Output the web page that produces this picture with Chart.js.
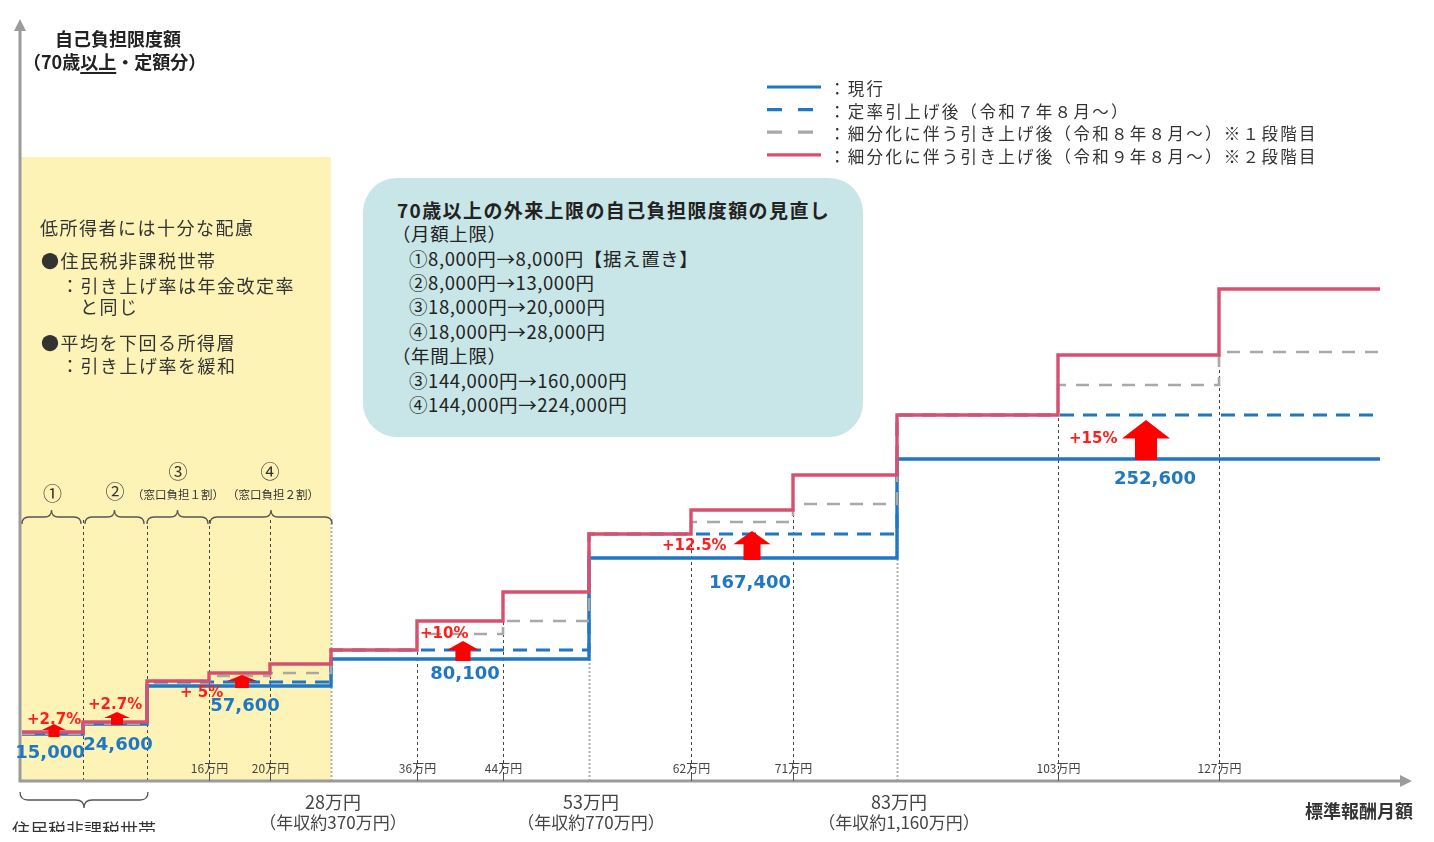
<!DOCTYPE html>
<html lang="ja">
<head>
<meta charset="utf-8">
<title>70歳以上の外来上限の自己負担限度額の見直し</title>
<script src="https://cdn.jsdelivr.net/npm/chart.js@4.4.1/dist/chart.umd.min.js"></script>
<style>
  html, body { margin: 0; padding: 0; background: #fff; }
  #wrap { position: relative; width: 1434px; height: 842px; overflow: hidden;
          font-family: "Noto Sans CJK JP", "Noto Sans", sans-serif; color: #333; }
  #chart { position: absolute; left: 0; top: 0; }
  #box { position: absolute; left: 363px; top: 178px; width: 500px; height: 259px;
         border-radius: 34px; background: #c8e6e7; }
  .t { position: absolute; white-space: nowrap; line-height: 24px; }
  .ttl { font-size: 18px; font-weight: 700; color: #222; }
  .ttl u { text-underline-offset: 3px; text-decoration-thickness: 1.5px; }
  .lg  { font-size: 16.5px; letter-spacing: 2.3px; color: #333; }
  .nt  { font-size: 18px; letter-spacing: 1.5px; color: #333; }
  .bx  { font-size: 18.5px; letter-spacing: 0.6px; color: #222; }
  .bxh { font-size: 19px; font-weight: 700; letter-spacing: 1.4px; color: #222; }
</style>
</head>
<body>
<div id="wrap">
  <canvas id="chart" width="1434" height="842"></canvas>
  <div id="box"></div>
</div>
<script>
'use strict';

// ---- data (diagram is not drawn to scale: units are diagram units) ----
// start of each income band on the horizontal axis
const segStart = [2, 63, 127, 189, 250, 311, 397, 483, 569, 671, 773, 877, 1038, 1199];
const segEnd   = 1360;

// limit level for each band
const current = [47, 57, 95, 95, 95, 122, 122, 122, 223, 223, 223, 322, 322, 322];
const rateUp  = [47, 57, 99, 99, 99, 131, 131, 131, 247, 247, 247, 366, 366, 366];
const stage1  = [47, 57, 100, 105, 108, 131, 147, 160, 247, 259, 277, 366, 396, 429];
const stage2  = [49, 59, 100, 108, 117, 131, 160, 189, 247, 271, 306, 366, 426, 492];

// axis labels
const minorTicks  = [189, 250, 397, 483, 671, 773, 1038, 1199];
const minorLabels = ['16万円', '20万円', '36万円', '44万円', '62万円', '71万円', '103万円', '127万円'];
const majorTicks  = [311, 569, 877];
const majorLabels = ['28万円', '53万円', '83万円'];
const majorSub    = ['（年収約370万円）', '（年収約770万円）', '（年収約1,160万円）'];

// current limits written on the chart
const valueText = ['15,000', '24,600', '57,600', '80,100', '167,400', '252,600'];
const valueX    = [30, 98, 225, 445, 730, 1135];
const valueY    = [28, 36, 75, 107, 198, 302];

// increase arrows and rates
const pctText  = ['+2.7%', '+2.7%', '+ 5%', '+10%', '+12.5%', '+15%'];
const pctX     = [7, 68, 160, 400, 642, 1049];
const pctY     = [61, 76, 88, 147, 235, 342];
const arrowX    = [34, 97, 222, 443, 732, 1126];
const arrowBase = [44, 56, 93, 120, 221, 321];
const arrowTip  = [57, 69, 106, 140, 250, 361];
const arrowW    = [24, 26, 30, 33, 37, 48];

const legendLabels = [
  '：現行',
  '：定率引上げ後（令和７年８月～）',
  '：細分化に伴う引き上げ後（令和８年８月～）※１段階目',
  '：細分化に伴う引き上げ後（令和９年８月～）※２段階目'
];

const BLUE = '#1f77c6', RED = '#d8506f', GREY = '#a8a8a8';
const lowBandTop = 624, braceLevel = 264;

function steps(vals) {
  const pts = segStart.map((x, i) => ({ x, y: vals[i] }));
  pts.push({ x: segEnd, y: vals[vals.length - 1] });
  return pts;
}

function brace(ctx, x1, x2, yy, dir, r) {
  const m = (x1 + x2) / 2;
  ctx.beginPath();
  ctx.moveTo(x1, yy + r * dir);
  ctx.quadraticCurveTo(x1, yy, x1 + r, yy);
  ctx.lineTo(m - r, yy);
  ctx.quadraticCurveTo(m, yy, m, yy - r * dir);
  ctx.quadraticCurveTo(m, yy, m + r, yy);
  ctx.lineTo(x2 - r, yy);
  ctx.quadraticCurveTo(x2, yy, x2, yy + r * dir);
  ctx.stroke();
}

function upArrow(ctx, cx, yb, yt, w) {
  const sw = w * 0.46, hh = (yb - yt) * 0.46;
  ctx.beginPath();
  ctx.moveTo(cx - sw / 2, yb);
  ctx.lineTo(cx - sw / 2, yt + hh);
  ctx.lineTo(cx - w / 2, yt + hh);
  ctx.lineTo(cx, yt);
  ctx.lineTo(cx + w / 2, yt + hh);
  ctx.lineTo(cx + sw / 2, yt + hh);
  ctx.lineTo(cx + sw / 2, yb);
  ctx.closePath();
  ctx.fill();
}

const diagram = {
  id: 'diagram',
  beforeDatasetsDraw(chart) {
    const { ctx, scales: { x, y } } = chart;
    const x0 = x.getPixelForValue(0), y0 = y.getPixelForValue(0);
    ctx.save();

    // low-income band
    ctx.fillStyle = '#fdf3b6';
    ctx.fillRect(x0, y.getPixelForValue(lowBandTop),
                 x.getPixelForValue(segStart[5]) - x0, y0 - y.getPixelForValue(lowBandTop));

    // vertical guides at band borders
    segStart.slice(1).forEach((v, k) => {
      const i = k + 1;
      const major = majorTicks.includes(v);
      const top = i <= 5 ? braceLevel : (major ? current[i] : stage2[i]);
      ctx.beginPath();
      if (major) { ctx.strokeStyle = '#b0b0b0'; ctx.lineWidth = 2; ctx.setLineDash([2, 2]); }
      else { ctx.strokeStyle = '#444'; ctx.lineWidth = 1; ctx.setLineDash([3, 3]); }
      const px = Math.round(x.getPixelForValue(v)) + 0.5;
      ctx.moveTo(px, y0);
      ctx.lineTo(px, y.getPixelForValue(top));
      ctx.stroke();
    });
    ctx.setLineDash([]);

    // axes with arrow heads
    ctx.strokeStyle = '#9b9b9b';
    ctx.fillStyle = '#9b9b9b';
    ctx.lineWidth = 3;
    const xr = x.getPixelForValue(x.max), yt = y.getPixelForValue(y.max);
    ctx.beginPath();
    ctx.moveTo(x0, y0); ctx.lineTo(x0, yt + 8);
    ctx.moveTo(x0 - 1.5, y0); ctx.lineTo(xr - 8, y0);
    ctx.stroke();
    ctx.beginPath();
    ctx.moveTo(x0, yt - 2); ctx.lineTo(x0 - 6, yt + 10); ctx.lineTo(x0 + 6, yt + 10); ctx.closePath();
    ctx.moveTo(xr + 2, y0); ctx.lineTo(xr - 10, y0 - 6); ctx.lineTo(xr - 10, y0 + 6); ctx.closePath();
    ctx.fill();

    // ticks and tick labels
    ctx.strokeStyle = '#555';
    ctx.lineWidth = 1;
    ctx.fillStyle = '#444';
    ctx.font = '12px "Noto Sans CJK JP"';
    ctx.textAlign = 'center';
    ctx.textBaseline = 'middle';
    minorTicks.forEach((v, i) => {
      const px = Math.round(x.getPixelForValue(v)) + 0.5;
      ctx.beginPath(); ctx.moveTo(px, y0 - 6); ctx.lineTo(px, y0); ctx.stroke();
      ctx.fillText(minorLabels[i], px, y.getPixelForValue(13));
    });
    majorTicks.forEach((v, i) => {
      const px = x.getPixelForValue(v) + 2;
      ctx.font = '18px "Noto Sans CJK JP"';
      ctx.fillText(majorLabels[i], px, y.getPixelForValue(-21));
      ctx.font = '17px "Noto Sans CJK JP"';
      ctx.fillText(majorSub[i], px, y.getPixelForValue(-42));
    });
    ctx.font = 'bold 18px "Noto Sans CJK JP"';
    ctx.fillStyle = '#333';
    ctx.textAlign = 'right';
    ctx.fillText('標準報酬月額', x.getPixelForValue(1393), y.getPixelForValue(-30));

    // braces over the low-income bands
    ctx.strokeStyle = '#555';
    ctx.lineWidth = 1.3;
    const by = y.getPixelForValue(braceLevel);
    const sx = segStart.map(v => x.getPixelForValue(v));
    brace(ctx, sx[0], sx[1] - 2, by, 1, 7);
    brace(ctx, sx[1] + 2, sx[2] - 3, by, 1, 7);
    brace(ctx, sx[2], sx[3] - 1, by, 1, 7);
    brace(ctx, sx[3] + 1, sx[5] + 1, by, 1, 7);
    brace(ctx, x0, sx[2] + 1, y.getPixelForValue(-19), -1, 8);

    ctx.fillStyle = '#333';
    ctx.textAlign = 'center';
    ctx.font = '19px "Noto Sans CJK JP"';
    ctx.fillText('①', (sx[0] + sx[1]) / 2, by - 23);
    ctx.fillText('②', (sx[1] + sx[2]) / 2, by - 25);
    ctx.fillText('③', (sx[2] + sx[3]) / 2, by - 45);
    ctx.fillText('④', (sx[3] + sx[5]) / 2, by - 45);
    ctx.font = '11.5px "Noto Sans CJK JP"';
    ctx.fillText('（窓口負担１割）', (sx[2] + sx[3]) / 2, by - 22);
    ctx.fillText('（窓口負担２割）', (sx[3] + sx[5]) / 2 + 3, by - 22);

    ctx.save();
    ctx.beginPath(); ctx.rect(0, 0, 400, 832); ctx.clip();
    ctx.font = '18px "Noto Sans CJK JP"';
    ctx.fillText('住民税非課税世帯', sx[1] + 1, y.getPixelForValue(-49));
    ctx.restore();

    ctx.restore();
  },
  afterDatasetsDraw(chart) {
    const { ctx, scales: { x, y } } = chart;
    ctx.save();

    // increase arrows
    ctx.fillStyle = '#ff0000';
    arrowX.forEach((v, i) => {
      upArrow(ctx, x.getPixelForValue(v), y.getPixelForValue(arrowBase[i]),
              y.getPixelForValue(arrowTip[i]), arrowW[i]);
    });

    ctx.textBaseline = 'middle';
    ctx.font = 'bold 15px "DejaVu Sans"';
    ctx.fillStyle = '#ff1e1e';
    ctx.textAlign = 'left';
    pctText.forEach((t, i) => ctx.fillText(t, x.getPixelForValue(pctX[i]), y.getPixelForValue(pctY[i])));

    ctx.font = 'bold 18px "DejaVu Sans"';
    ctx.fillStyle = BLUE;
    ctx.textAlign = 'center';
    valueText.forEach((t, i) => ctx.fillText(t, x.getPixelForValue(valueX[i]), y.getPixelForValue(valueY[i])));

    // legend samples, same order as the legend text
    const order = [3, 2, 1, 0];
    order.forEach((di, row) => {
      const ds = chart.data.datasets[di];
      const ly = 87 + row * 22.6;
      ctx.beginPath();
      ctx.strokeStyle = ds.borderColor;
      ctx.lineWidth = 3.2;
      ctx.setLineDash(ds.borderDash ? [15, 16] : []);
      ctx.moveTo(767, ly);
      ctx.lineTo(821, ly);
      ctx.stroke();
    });
    ctx.restore();
  }
};

new Chart(document.getElementById('chart'), {
  type: 'line',
  data: {
    datasets: [
      { label: legendLabels[3], data: steps(stage2),  borderColor: RED,  borderWidth: 3.4 },
      { label: legendLabels[2], data: steps(stage1),  borderColor: GREY, borderWidth: 2.6, borderDash: [13, 10] },
      { label: legendLabels[1], data: steps(rateUp),  borderColor: BLUE, borderWidth: 3,   borderDash: [14, 9] },
      { label: legendLabels[0], data: steps(current), borderColor: BLUE, borderWidth: 3.4 }
    ]
  },
  options: {
    responsive: false,
    animation: false,
    devicePixelRatio: 1,
    layout: { padding: { left: 20, right: 24, top: 21, bottom: 61 } },
    datasets: { line: { stepped: true, pointRadius: 0, fill: false, borderCapStyle: 'butt' } },
    plugins: { legend: { display: false }, tooltip: { enabled: false } },
    scales: {
      x: { type: 'linear', min: 0, max: 1390, display: false },
      y: { type: 'linear', min: 0, max: 760, display: false }
    }
  },
  plugins: [diagram]
});

// ---- text blocks ----
const texts = [
  ['自己負担限度額', 55, 38, 'ttl'],
  ['（70歳<u>以上</u>・定額分）', 23, 61, 'ttl'],
  ['低所得者には十分な配慮', 40, 227, 'nt'],
  ['●住民税非課税世帯', 41, 260, 'nt'],
  ['：引き上げ率は年金改定率', 61, 285, 'nt'],
  ['と同じ', 80, 306, 'nt'],
  ['●平均を下回る所得層', 41, 342, 'nt'],
  ['：引き上げ率を緩和', 61, 365, 'nt'],
  ['70歳以上の外来上限の自己負担限度額の見直し', 397, 210, 'bxh'],
  ['（月額上限）', 392, 233, 'bx'],
  ['①8,000円→8,000円【据え置き】', 409, 258, 'bx'],
  ['②8,000円→13,000円', 409, 282, 'bx'],
  ['③18,000円→20,000円', 409, 306, 'bx'],
  ['④18,000円→28,000円', 409, 331, 'bx'],
  ['（年間上限）', 392, 355, 'bx'],
  ['③144,000円→160,000円', 409, 380, 'bx'],
  ['④144,000円→224,000円', 409, 404, 'bx']
];
legendLabels.forEach((t, i) => texts.push([t, 829, 88 + i * 22.5, 'lg']));

const wrap = document.getElementById('wrap');
texts.forEach(([html, left, cy, cls]) => {
  const div = document.createElement('div');
  div.className = 't ' + cls;
  div.style.left = left + 'px';
  div.style.top = (cy - 12) + 'px';
  div.innerHTML = html;
  wrap.appendChild(div);
});
</script>
</body>
</html>
